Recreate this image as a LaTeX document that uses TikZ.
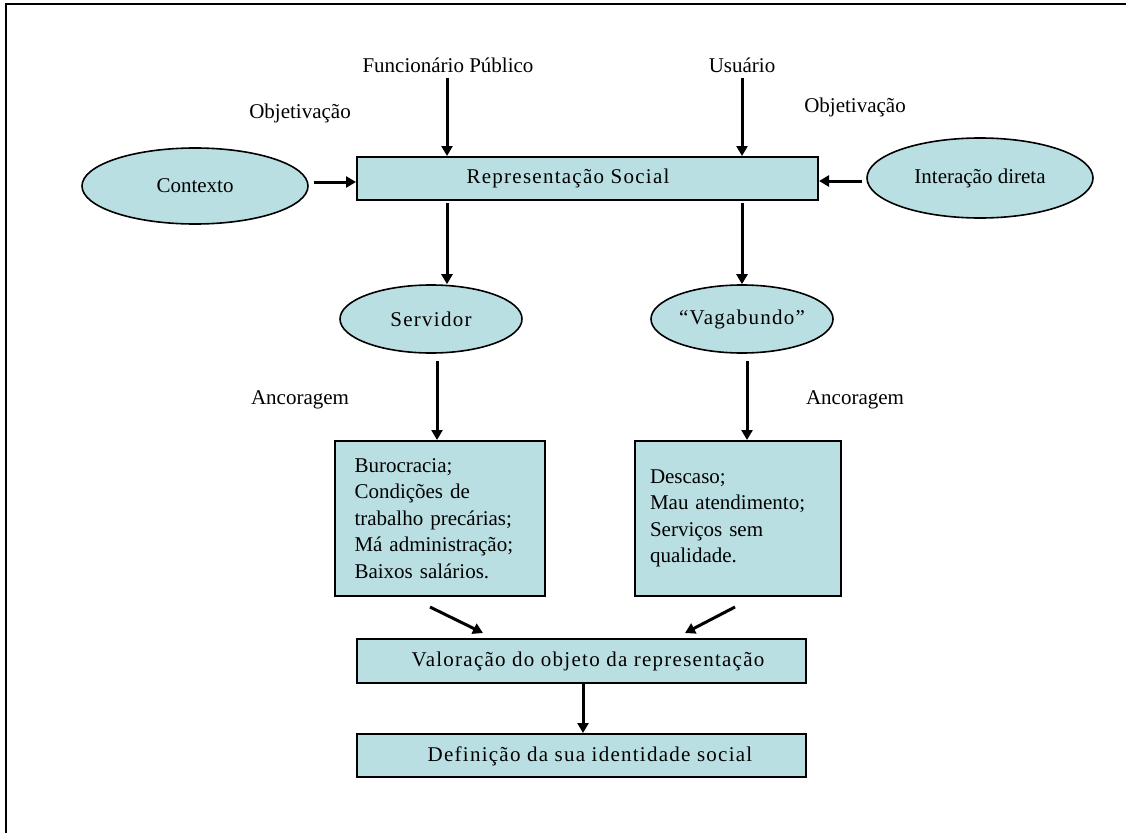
\documentclass[tikz,border=0pt]{standalone}
\usepackage{fontspec}
\setmainfont{Liberation Serif}
\newfontfamily\spaced[LetterSpace=6]{Liberation Serif}
\usetikzlibrary{arrows.meta,shapes.geometric}
\definecolor{boxfill}{HTML}{BADFE3}
\tikzset{
  arr/.style={line width=3pt,-{Triangle[length=10pt,width=11pt]}},
  rbox/.style={draw=black,line width=2pt,fill=boxfill,inner sep=0pt},
  ell/.style={ellipse,draw=black,line width=1.6pt,fill=boxfill,inner sep=0pt},
  lbl/.style={font=\fontsize{21}{24}\selectfont,inner sep=0pt},
  btxt/.style={font=\spaced\fontsize{21}{24}\selectfont,inner sep=0pt},
}
\begin{document}
\begin{tikzpicture}[x=1pt,y=-1pt]
\useasboundingbox (0,0) rectangle (1126,832);
\draw[line width=2.8pt] (1140,4) -- (6,4) -- (6,850);
% labels
\node[lbl] (fp) at (448,65) {Funcionário Público};
\node[lbl] (us) at (742,65) {Usuário};
\node[lbl] (ob1) at (300,113) {Objetivação};
\node[lbl] (ob2) at (855,107) {Objetivação};
\node[lbl] (an1) at (300,400) {Ancoragem};
\node[lbl] (an2) at (855,400) {Ancoragem};
% main boxes
\node[rbox,minimum width=461pt,minimum height=43pt] (rep) at (587.5,178.5) {};
\node[btxt] (rept) at (568,178) {Representação Social};
\node[ell,minimum width=226pt,minimum height=76pt] (ctx) at (195,186) {\fontsize{21}{24}\selectfont Contexto};
\node[ell,minimum width=226pt,minimum height=80pt] (int) at (980,178) {\fontsize{21}{24}\selectfont Interação direta};
\node[ell,minimum width=182pt,minimum height=68pt] (ser) at (431,319) {\spaced\fontsize{21}{24}\selectfont Servidor};
\node[ell,minimum width=182pt,minimum height=68pt] (vag) at (742,319) {\spaced\fontsize{21}{24}\selectfont “Vagabundo”};
\node[rbox,minimum width=205pt,minimum height=155pt,align=left,text width=170pt,inner xsep=20pt,font=\fontsize{21}{26.5}\selectfont] (bur) at (439.5,518.5)
  {Burocracia;\\Condições de\\trabalho precárias;\\Má administração;\\Baixos salários.};
\node[rbox,minimum width=204pt,minimum height=155pt,align=left,text width=176pt,inner xsep=15pt,font=\fontsize{21}{26.5}\selectfont] (des) at (738,518.5)
  {Descaso;\\Mau atendimento;\\Serviços sem\\qualidade.};
\node[rbox,minimum width=449pt,minimum height=44pt] (val) at (581.5,661) {};
\node[btxt] (valt) at (588,661) {Valoração do objeto da representação};
\node[rbox,minimum width=449pt,minimum height=43pt] (def) at (581.5,755.5) {};
\node[btxt] (deft) at (590,756) {Definição da sua identidade social};
% helper coordinates
\coordinate (c1) at (447,78);
\coordinate (c2) at (742,78);
\coordinate (e1) at (314,182);
\coordinate (e2) at (862,181);
\coordinate (s1) at (447,203);
\coordinate (s2) at (742,203);
\coordinate (t1) at (437,361);
\coordinate (t2) at (747,361);
\coordinate (d1) at (430,607);
\coordinate (d2) at (483,633);
\coordinate (d3) at (735,607);
\coordinate (d4) at (685,633);
\coordinate (v1) at (583,683);
% connectors
\draw[arr] (c1) -- (c1 |- rep.north);
\draw[arr] (c2) -- (c2 |- rep.north);
\draw[arr] (e1) -- (e1 -| rep.west);
\draw[arr] (e2) -- (e2 -| rep.east);
\draw[arr] (s1) -- (s1 |- ser.north);
\draw[arr] (s2) -- (s2 |- vag.north);
\draw[arr] (t1) -- (t1 |- bur.north);
\draw[arr] (t2) -- (t2 |- des.north);
\draw[arr] (d1) -- (d2);
\draw[arr] (d3) -- (d4);
\draw[arr] (v1) -- (v1 |- def.north);
\end{tikzpicture}
\end{document}
